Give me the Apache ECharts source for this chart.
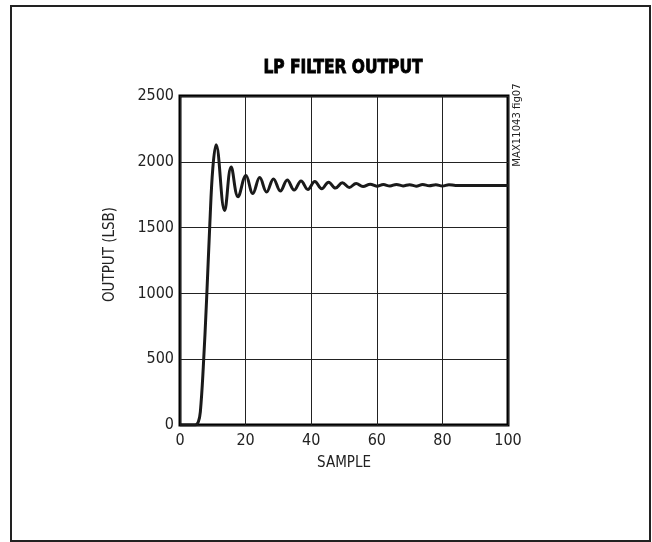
<!DOCTYPE html>
<html>
<head>
<meta charset="utf-8">
<script src="https://cdn.jsdelivr.net/npm/echarts@6/dist/echarts.min.js"></script>
<style>
html,body{margin:0;padding:0;background:#fff;}
#c{width:652px;height:542px;}
</style>
</head>
<body>
<div id="c"></div>
<script>
// Data
var sampleX = [0, 4.6, 5.6, 6.2, 7.1, 8.1, 9.1, 10.0, 11.0, 13.6, 15.6, 17.7, 20.1, 22.2, 24.3, 26.4, 28.5, 30.6, 32.7, 34.8, 36.9, 39.0, 41.1, 43.2, 45.3, 47.4, 49.5, 51.6, 53.7, 55.8, 58, 60, 62, 64, 66, 68, 70, 72, 74, 76, 78, 80, 82, 84, 100];
var outputY = [0, 0, 25, 100, 440, 950, 1530, 1950, 2130, 1630, 1960, 1735, 1895, 1760, 1880, 1770, 1870, 1778, 1862, 1785, 1855, 1790, 1850, 1795, 1845, 1800, 1840, 1805, 1835, 1812, 1830, 1815, 1827, 1816, 1828, 1817, 1826, 1815, 1827, 1818, 1825, 1816, 1826, 1820, 1820];
var xTicks = [0, 20, 40, 60, 80, 100];
var yTicks = [0, 500, 1000, 1500, 2000, 2500];

var pts = sampleX.map(function (x, i) { return [x, outputY[i]]; });
var FONT = '"DejaVu Sans Condensed", "Liberation Sans", sans-serif';

var chart = echarts.init(document.getElementById('c'), null, {renderer: 'canvas'});
chart.setOption({
  animation: false,
  backgroundColor: '#fff',
  grid: {left: 180, right: 144, top: 96, bottom: 117, show: true, borderColor: '#000', borderWidth: 3, backgroundColor: 'transparent'},
  xAxis: {
    type: 'value', min: xTicks[0], max: xTicks[xTicks.length - 1], interval: 20,
    name: 'SAMPLE', nameLocation: 'middle', nameGap: 31,
    nameTextStyle: {fontFamily: FONT, fontSize: 15, color: '#222'},
    axisLine: {show: false}, axisTick: {show: false},
    axisLabel: {fontFamily: FONT, fontSize: 16, color: '#222', margin: 8, formatter: function (v) { return String(v); }},
    splitLine: {show: true, lineStyle: {color: '#222', width: 1}}
  },
  yAxis: {
    type: 'value', min: yTicks[0], max: yTicks[yTicks.length - 1], interval: 500,
    name: 'OUTPUT (LSB)', nameLocation: 'middle', nameGap: 62, nameRotate: 90,
    nameTextStyle: {fontFamily: FONT, fontSize: 15, color: '#222', padding: [0, 0, 0, 12]},
    axisLine: {show: false}, axisTick: {show: false},
    axisLabel: {fontFamily: FONT, fontSize: 16, color: '#222', margin: 6, formatter: function (v) { return String(v); }},
    splitLine: {show: true, lineStyle: {color: '#222', width: 1}}
  },
  series: [{
    type: 'line', data: pts, showSymbol: false, smooth: 0.4,
    lineStyle: {color: '#1a1a1a', width: 3}, z: 3
  }],
  graphic: [
    {type: 'rect', shape: {x: 11, y: 6, width: 639, height: 535}, style: {fill: 'none', stroke: '#222', lineWidth: 2}, silent: true, z: -1},
    {type: 'text', x: 343, y: 58, scaleX: 0.86, style: {text: 'LP FILTER OUTPUT', fontFamily: FONT, fontWeight: 'bold', fontSize: 20, fill: '#000', stroke: '#000', lineWidth: 0.8, textAlign: 'center', textVerticalAlign: 'top'}},
    {type: 'text', x: 517, y: 125, rotation: Math.PI / 2, scaleX: 1.12, style: {text: 'MAX11043 fig07', fontFamily: FONT, fontSize: 10, fill: '#222', textAlign: 'center', textVerticalAlign: 'middle'}}
  ]
});
</script>
</body>
</html>
